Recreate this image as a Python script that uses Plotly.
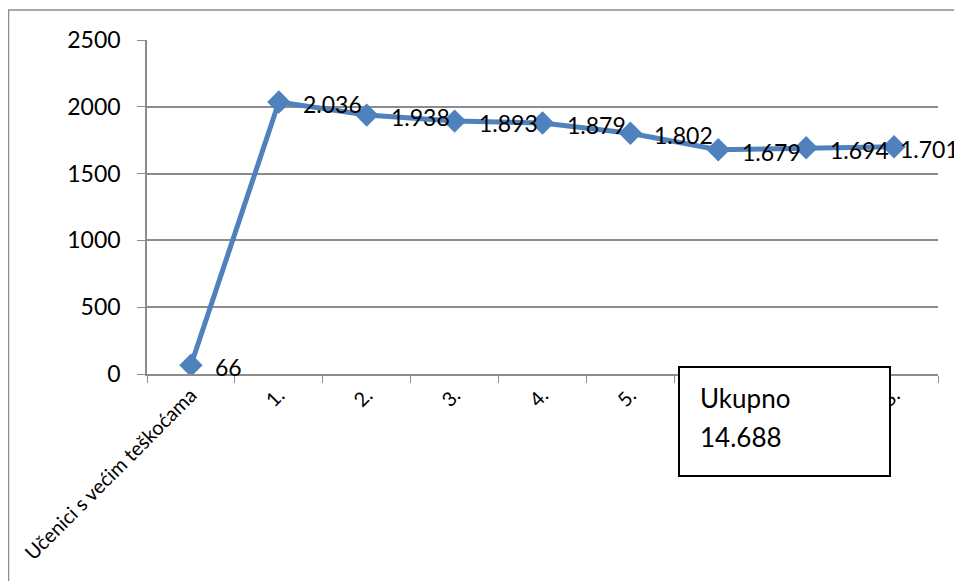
import plotly.graph_objects as go

categories = ["Učenici s većim teškoćama", "1.", "2.", "3.", "4.", "5.", "6.", "7.", "8."]
values = [66, 2036, 1938, 1893, 1879, 1802, 1679, 1694, 1701]
total_title = "Ukupno"
total_value = "14.688"

FONT = "Lato"
BLUE = "#4F81BD"
GRID = "#8C8C8C"

# page has ~8px body margin; figure is placed so the plot area lands at x 147..938, y 40..374
L, T, R, B = 139, 32, 24, 207
PW = 954 - L - R
PH = 573 - T - B

def px(xpage):
    return (xpage - 8 - L) / PW

def py(ypage):
    return (573 - B - (ypage - 8)) / PH

fig = go.Figure()
fig.add_trace(go.Scatter(
    x=categories, y=values, mode="lines+markers",
    line=dict(color=BLUE, width=5),
    marker=dict(symbol="diamond", size=18, color=BLUE),
    hoverinfo="skip", showlegend=False,
))

n = len(categories)
for i, (c, v) in enumerate(zip(categories, values)):
    shift = 22 if i < n - 1 else 4
    fig.add_annotation(x=c, y=v, text=f"{v:,}".replace(",", "."), showarrow=False,
                       xanchor="left", yanchor="middle", xshift=shift, yshift=-2,
                       font=dict(family=FONT, size=23, color="black"))

# total box
fig.add_shape(type="rect", xref="paper", yref="paper",
              x0=px(679), x1=px(890), y0=py(476), y1=py(367),
              line=dict(color="black", width=2), fillcolor="white", layer="above")
fig.add_annotation(xref="paper", yref="paper", x=px(698), y=py(398),
                   text=total_title, showarrow=False, xanchor="left", yanchor="middle",
                   font=dict(family=FONT, size=26, color="black"))
fig.add_annotation(xref="paper", yref="paper", x=px(698), y=py(437),
                   text=total_value, showarrow=False, xanchor="left", yanchor="middle",
                   font=dict(family=FONT, size=26, color="black"))

# outer chart frame (left and top visible)
fig.add_shape(type="rect", xref="paper", yref="paper",
              x0=px(8.5), x1=1.3, y0=-1.0, y1=py(10),
              line=dict(color=GRID, width=1.5), fillcolor="rgba(0,0,0,0)", layer="below")

fig.update_xaxes(type="category", tickson="boundaries", ticks="outside", ticklen=7,
                 tickcolor=GRID, showline=True, linecolor=GRID, linewidth=1.5,
                 showgrid=False, tickangle=-45,
                 tickfont=dict(family=FONT, size=20, color="black"),
                 range=[-0.5, 8.5])
fig.update_yaxes(range=[0, 2500], dtick=500, tickformat="d", ticks="outside", ticklen=8,
                 tickcolor=GRID, showline=True, linecolor=GRID, linewidth=1.5,
                 showgrid=True, gridcolor=GRID, gridwidth=1.5, zeroline=False,
                 ticklabelstandoff=12,
                 tickfont=dict(family=FONT, size=23, color="black"))

fig.update_layout(width=954, height=573, margin=dict(l=L, r=R, t=T, b=B),
                  plot_bgcolor="white", paper_bgcolor="white",
                  font=dict(family=FONT))

fig.write_html("out.html")
